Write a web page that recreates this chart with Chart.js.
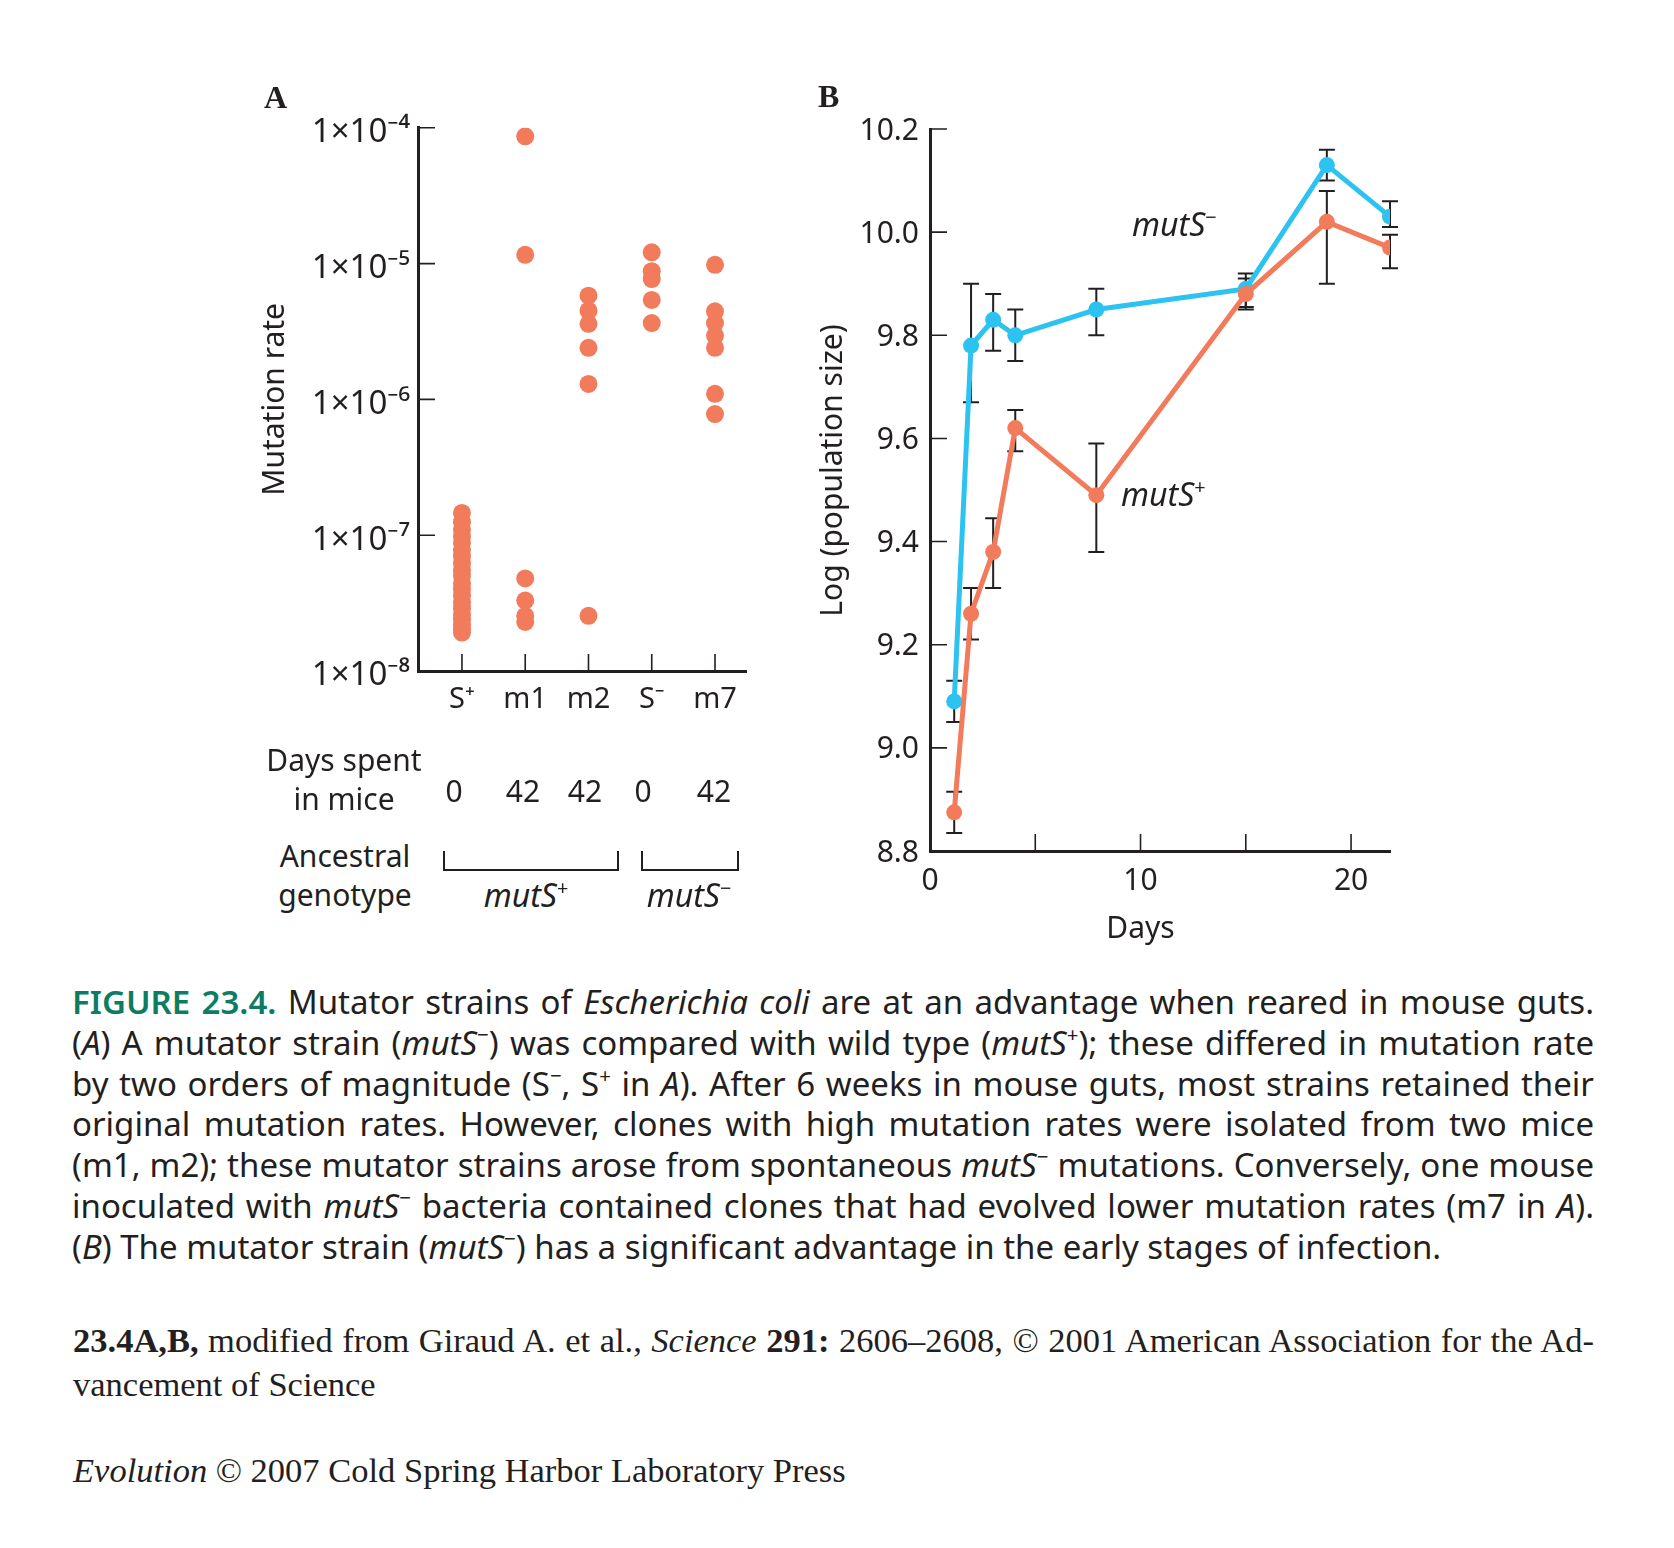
<!DOCTYPE html>
<html>
<head>
<meta charset="utf-8">
<title>Figure 23.4</title>
<script src="https://cdn.jsdelivr.net/npm/chart.js@4.4.1/dist/chart.umd.min.js"></script>
<style>
  body { margin: 0; background: #fff; width: 1674px; height: 1548px; position: relative;
         font-family: 'Noto Sans', sans-serif; color: #231f20; overflow: hidden; }
  .abs { position: absolute; white-space: nowrap; line-height: 1; }
  .ctr { width: 200px; text-align: center; }
  .serif { font-family: 'Liberation Serif', serif; }
  .lbl { font-size: 30px; }
  .lbl2 { font-size: 32px; }
  .sp { font-size: 0.62em; position: relative; top: -0.62em; line-height: 0; font-style: normal; }
  .bracket { position: absolute; box-sizing: border-box; height: 20px;
             border: 2px solid #231f20; border-top: none; }
  .cap { position: absolute; left: 72px; width: 1522px; font-size: 33px; line-height: 1; white-space: nowrap; }
  .fig { color: #0e7c61; font-weight: 600; }
  .credit { position: absolute; left: 73px; width: 1521px; font-size: 34.5px; line-height: 1; white-space: nowrap;
            font-family: 'Liberation Serif', serif; }
  #boxA { position: absolute; left: 240px; top: 100px; width: 520px; height: 640px; }
  #boxB { position: absolute; left: 760px; top: 100px; width: 680px; height: 860px; }
</style>
</head>
<body>
<div id="boxA"><canvas id="chartA"></canvas></div>
<div id="boxB"><canvas id="chartB"></canvas></div>

<!-- panel letters -->
<div class="abs serif" style="left:264px; top:81px; font-size:32px; font-weight:bold;">A</div>
<div class="abs serif" style="left:818px; top:80px; font-size:32px; font-weight:bold;">B</div>

<!-- table under panel A -->
<div class="abs ctr lbl" style="left:244px; top:745px;">Days spent</div>
<div class="abs ctr lbl" style="left:244px; top:784px;">in mice</div>
<div id="daysRow"></div>
<div class="abs ctr lbl" style="left:245px; top:841px;">Ancestral</div>
<div class="abs ctr lbl" style="left:245px; top:880px;">genotype</div>
<div class="bracket" style="left:443px; top:851px; width:176px;"></div>
<div class="bracket" style="left:641px; top:851px; width:98px;"></div>
<div class="abs ctr lbl2" style="left:426px; top:879px;"><i>mutS</i><span class="sp">+</span></div>
<div class="abs ctr lbl2" style="left:589px; top:879px;"><i>mutS</i><span class="sp">&minus;</span></div>

<!-- line labels in panel B -->
<div class="abs lbl2" style="left:1132px; top:208px;"><i>mutS</i><span class="sp">&minus;</span></div>
<div class="abs lbl2" style="left:1121px; top:478px;"><i>mutS</i><span class="sp">+</span></div>

<!-- caption -->
<div class="cap just" style="top:985px;"><span><span class="fig">FIGURE 23.4.</span> Mutator strains of <i>Escherichia coli</i> are at an advantage when reared in mouse guts.</span></div>
<div class="cap just" style="top:1026px;"><span>(<i>A</i>) A mutator strain (<i>mutS</i><span class="sp">&minus;</span>) was compared with wild type (<i>mutS</i><span class="sp">+</span>); these differed in mutation rate</span></div>
<div class="cap just" style="top:1067px;"><span>by two orders of magnitude (S<span class="sp">&minus;</span>, S<span class="sp">+</span> in <i>A</i>). After 6 weeks in mouse guts, most strains retained their</span></div>
<div class="cap just" style="top:1107px;"><span>original mutation rates. However, clones with high mutation rates were isolated from two mice</span></div>
<div class="cap just" style="top:1148px;"><span>(m1, m2); these mutator strains arose from spontaneous <i>mutS</i><span class="sp">&minus;</span> mutations. Conversely, one mouse</span></div>
<div class="cap just" style="top:1189px;"><span>inoculated with <i>mutS</i><span class="sp">&minus;</span> bacteria contained clones that had evolved lower mutation rates (m7 in <i>A</i>).</span></div>
<div class="cap" style="top:1230px;"><span>(<i>B</i>) The mutator strain (<i>mutS</i><span class="sp">&minus;</span>) has a significant advantage in the early stages of infection.</span></div>

<div class="credit just" style="top:1323px;"><span><b>23.4A,B,</b> modified from Giraud A. et al., <i>Science</i> <b>291:</b> 2606&ndash;2608, &copy; 2001 American Association for the Ad-</span></div>
<div class="credit" style="top:1367px;"><span>vancement of Science</span></div>
<div class="credit" style="top:1453px;"><span><i>Evolution</i> &copy; 2007 Cold Spring Harbor Laboratory Press</span></div>

<script>
// ---- panel A: mutation rate per clone ----
const categories = ['S\u207A', 'm1', 'm2', 'S\u207B', 'm7'];
const daysInMice = ['0', '42', '42', '0', '42'];
const rateSPlus = [1.46e-7, 1.25e-7, 1.1e-7, 9.8e-8, 8.8e-8, 7.8e-8, 7e-8, 6.2e-8, 5.5e-8, 5e-8,
                   4.4e-8, 4e-8, 3.6e-8, 3.2e-8, 2.9e-8, 2.6e-8, 2.4e-8, 2.2e-8, 2.05e-8, 1.92e-8];
const rateM1 = [8.65e-5, 1.16e-5, 4.8e-8, 3.3e-8, 2.55e-8, 2.3e-8];
const rateM2 = [5.8e-6, 4.5e-6, 3.6e-6, 2.4e-6, 1.3e-6, 2.55e-8];
const rateSMinus = [1.21e-5, 8.8e-6, 7.7e-6, 5.4e-6, 3.65e-6];
const rateM7 = [9.8e-6, 4.45e-6, 3.65e-6, 2.95e-6, 2.4e-6, 1.1e-6, 7.8e-7];
const rateTicks = [1e-8, 1e-7, 1e-6, 1e-5, 1e-4];
const rateTickLabels = ['1\u00D710\u207B\u2078', '1\u00D710\u207B\u2077', '1\u00D710\u207B\u2076',
                        '1\u00D710\u207B\u2075', '1\u00D710\u207B\u2074'];

// ---- panel B: log population size over time ----
const days = [1.15, 1.95, 3, 4.05, 7.9, 15, 18.85, 21.85];
const popMutSMinus = [9.09, 9.78, 9.83, 9.80, 9.85, 9.89, 10.13, 10.03];
const popMutSMinusHi = [9.13, 9.90, 9.88, 9.85, 9.89, 9.92, 10.16, 10.06];
const popMutSMinusLo = [9.05, 9.67, 9.77, 9.75, 9.80, 9.85, 10.10, 10.01];
const popMutSPlus = [8.875, 9.26, 9.38, 9.62, 9.49, 9.88, 10.02, 9.97];
const popMutSPlusHi = [8.915, 9.31, 9.445, 9.655, 9.59, 9.91, 10.08, 9.995];
const popMutSPlusLo = [8.835, 9.21, 9.31, 9.575, 9.38, 9.855, 9.90, 9.93];
const popTicks = [8.8, 9.0, 9.2, 9.4, 9.6, 9.8, 10.0, 10.2];
const dayTicks = [0, 5, 10, 15, 20];
const dayTickLabels = ['0', '', '10', '', '20'];

const ink = '#231f20';
const salmon = '#f27b5c';
const sky = '#2cc3f0';

Chart.defaults.font.family = "'Noto Sans', sans-serif";
Chart.defaults.color = ink;

// days-in-mice row, lined up under the category columns
const dayCentres = [454, 523, 585, 643, 714];
document.getElementById('daysRow').innerHTML = daysInMice
  .map((d, i) => `<div class="abs ctr lbl" style="left:${dayCentres[i] - 100}px; top:776px;">${d}</div>`)
  .join('');

// justify the caption lines by spreading the word gaps
document.querySelectorAll('.just').forEach(el => {
  const inner = el.firstElementChild;
  const natural = inner.getBoundingClientRect().width;
  const gaps = (el.textContent.match(/ /g) || []).length;
  if (gaps) el.style.wordSpacing = ((el.clientWidth - natural) / gaps) + 'px';
});

// tick marks pointing into the plot, like the printed figure
const inwardTicks = {
  id: 'inwardTicks',
  afterDraw(chart) {
    const { ctx, chartArea: a, scales: { x, y } } = chart;
    ctx.save();
    ctx.strokeStyle = ink;
    ctx.lineWidth = 1.6;
    ctx.beginPath();
    x.ticks.forEach(t => {
      const px = x.getPixelForValue(t.value);
      if (px - a.left < 4) return;
      ctx.moveTo(px, a.bottom);
      ctx.lineTo(px, a.bottom - 17);
    });
    y.ticks.forEach(t => {
      const py = y.getPixelForValue(t.value);
      if (a.bottom - py < 4) return;
      ctx.moveTo(a.left, py);
      ctx.lineTo(a.left + 17, py);
    });
    ctx.stroke();
    ctx.restore();
  }
};

// vertical error bars with caps, read from errHi / errLo on each dataset
const errorBars = {
  id: 'errorBars',
  beforeDatasetsDraw(chart) {
    const { ctx, scales: { x, y } } = chart;
    ctx.save();
    ctx.strokeStyle = ink;
    ctx.lineWidth = 2;
    chart.data.datasets.forEach(ds => {
      if (!ds.errHi) return;
      ds.data.forEach((p, i) => {
        const px = x.getPixelForValue(p.x);
        const hi = y.getPixelForValue(ds.errHi[i]);
        const lo = y.getPixelForValue(ds.errLo[i]);
        ctx.beginPath();
        ctx.moveTo(px, hi); ctx.lineTo(px, lo);
        ctx.moveTo(px - 8, hi); ctx.lineTo(px + 8, hi);
        ctx.moveTo(px - 8, lo); ctx.lineTo(px + 8, lo);
        ctx.stroke();
      });
    });
    ctx.restore();
  }
};

const axisBorder = { display: true, width: 3, color: ink };
const noGrid = { display: false, drawTicks: false };

new Chart(document.getElementById('chartA'), {
  type: 'scatter',
  data: {
    datasets: [rateSPlus, rateM1, rateM2, rateSMinus, rateM7].map((vals, i) => ({
      label: categories[i],
      data: vals.map(v => ({ x: i + 1, y: v })),
      backgroundColor: salmon,
      borderWidth: 0,
      pointRadius: 9,
      pointHoverRadius: 9
    }))
  },
  options: {
    responsive: true,
    maintainAspectRatio: false,
    animation: false,
    layout: { padding: { top: 22, right: 14, left: 0, bottom: 0 } },
    plugins: { legend: { display: false }, tooltip: { enabled: false } },
    scales: {
      x: {
        type: 'linear', min: 0.305, max: 5.49,
        afterBuildTicks: s => { s.ticks = categories.map((c, i) => ({ value: i + 1 })); },
        afterFit: s => { s.height = 69; },
        grid: noGrid,
        border: axisBorder,
        ticks: { padding: 11, font: { size: 29 }, maxRotation: 0, autoSkip: false,
                 callback: (v, i) => categories[i] }
      },
      y: {
        type: 'logarithmic', min: 1e-8, max: 1e-4,
        afterBuildTicks: s => { s.ticks = rateTicks.map(v => ({ value: v })); },
        afterFit: s => { s.width = 178; },
        grid: noGrid,
        border: axisBorder,
        ticks: { padding: 8, labelOffset: 5, font: { size: 33 }, callback: (v, i) => rateTickLabels[i] },
        title: { display: true, text: 'Mutation rate', font: { size: 30 }, padding: { top: 17, bottom: 0 } }
      }
    }
  },
  plugins: [inwardTicks]
});

new Chart(document.getElementById('chartB'), {
  type: 'scatter',
  data: {
    datasets: [
      { label: 'mutS+', data: days.map((d, i) => ({ x: d, y: popMutSPlus[i] })),
        errHi: popMutSPlusHi, errLo: popMutSPlusLo,
        showLine: true, borderColor: salmon, backgroundColor: salmon, borderWidth: 5,
        pointRadius: 8, pointHoverRadius: 8, pointBorderWidth: 0 },
      { label: 'mutS\u2212', data: days.map((d, i) => ({ x: d, y: popMutSMinus[i] })),
        errHi: popMutSMinusHi, errLo: popMutSMinusLo,
        showLine: true, borderColor: sky, backgroundColor: sky, borderWidth: 5,
        pointRadius: 8, pointHoverRadius: 8, pointBorderWidth: 0 }
    ]
  },
  options: {
    responsive: true,
    maintainAspectRatio: false,
    animation: false,
    layout: { padding: { top: 27.7, right: 50, left: 0, bottom: 0 } },
    plugins: { legend: { display: false }, tooltip: { enabled: false } },
    scales: {
      x: {
        type: 'linear', min: 0, max: 21.85,
        afterBuildTicks: s => { s.ticks = dayTicks.map(v => ({ value: v })); },
        afterFit: s => { s.height = 109; },
        grid: noGrid,
        border: axisBorder,
        ticks: { padding: 12, font: { size: 30 }, maxRotation: 0, autoSkip: false,
                 callback: (v, i) => dayTickLabels[i] },
        title: { display: true, text: 'Days' + '\u00A0'.repeat(5), font: { size: 30 },
                 padding: { top: 0, bottom: 13 } }
      },
      y: {
        type: 'linear', min: 8.8, max: 10.2,
        afterBuildTicks: s => { s.ticks = popTicks.map(v => ({ value: v })); },
        afterFit: s => { s.width = 170; },
        grid: noGrid,
        border: axisBorder,
        ticks: { padding: 11, labelOffset: 2, font: { size: 30 }, callback: v => v.toFixed(1) },
        title: { display: true, text: '\u00A0'.repeat(5) + 'Log (population size)', font: { size: 30 },
                 padding: { top: 55, bottom: 0 } }
      }
    }
  },
  plugins: [errorBars, inwardTicks]
});
</script>
</body>
</html>
